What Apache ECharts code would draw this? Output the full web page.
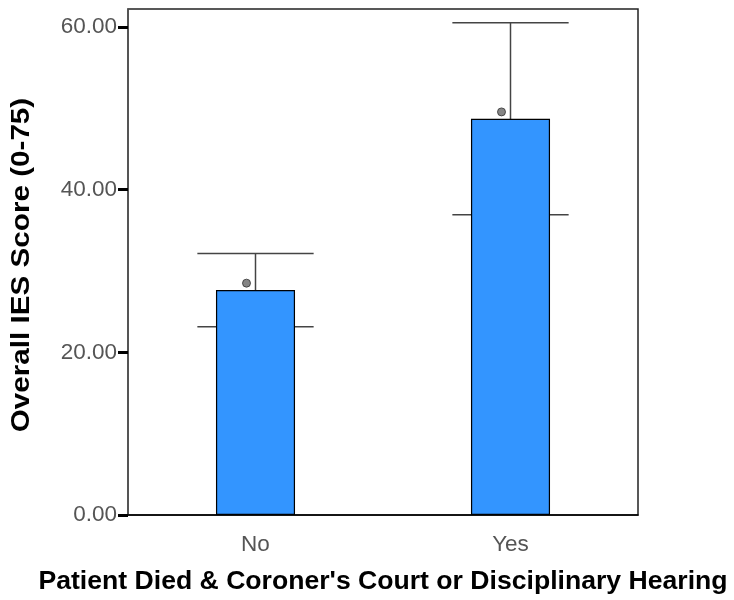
<!DOCTYPE html>
<html>
<head>
<meta charset="utf-8">
<script src="https://cdn.jsdelivr.net/npm/echarts@6/dist/echarts.min.js"></script>
<style>
  html, body { margin: 0; padding: 0; background: #fff; }
  #chart { width: 734px; height: 600px; }
</style>
</head>
<body>
<div id="chart"></div>
<script>
// IES scores by group: mean, 95% CI bounds and a marker value
const categories = ['No', 'Yes'];
const means = [27.66, 48.7];
const ciLower = [23.15, 36.9];
const ciUpper = [32.15, 60.5];
const markers = [28.5, 49.55];
const yTicks = [0, 20, 40, 60];
const xTitle = "Patient Died & Coroner's Court or Disciplinary Hearing";
const yTitle = 'Overall IES Score (0-75)';

const chart = echarts.init(document.getElementById('chart'));

const errorData = categories.map((c, i) => [i, ciLower[i], ciUpper[i]]);

chart.setOption({
  animation: false,
  grid: {
    left: 128, right: 96, top: 9, bottom: 85,
    outerBoundsMode: 'none',
    containLabel: false,
    show: true, borderColor: '#222', borderWidth: 1.5, backgroundColor: '#fff'
  },
  graphic: [{
    // vertical axis title, stretched slightly along its length
    type: 'text',
    x: 22,
    y: 265,
    rotation: Math.PI / 2,
    scaleX: 1.14,
    style: {
      text: yTitle,
      font: 'bold 26px "Liberation Sans"',
      fill: '#000',
      align: 'center',
      verticalAlign: 'middle'
    }
  }],
  xAxis: {
    type: 'category',
    data: categories,
    name: xTitle,
    nameLocation: 'middle',
    nameGap: 53,
    nameTextStyle: { fontFamily: 'Liberation Sans', fontWeight: 'bold', fontSize: 26.6, color: '#000' },
    axisLine: { lineStyle: { color: '#000', width: 1.5 } },
    axisTick: { alignWithLabel: true, length: 8, lineStyle: { color: '#000', width: 3 } },
    axisLabel: { fontFamily: 'Liberation Sans', fontSize: 22.5, color: '#555', margin: 18 }
  },
  yAxis: {
    type: 'value',
    min: 0,
    max: 62.2,
    interval: 20,
    axisLine: { show: true, lineStyle: { color: '#555', width: 1.5 } },
    axisTick: { show: true, length: 10, lineStyle: { color: '#000', width: 3 } },
    splitLine: { show: false },
    axisLabel: {
      fontFamily: 'Liberation Sans', fontSize: 22.5, color: '#555', margin: 11,
      showMaxLabel: false,
      formatter: v => yTicks.includes(v) ? v.toFixed(2) : ''
    }
  },
  series: [
    {
      // confidence interval whiskers, drawn beneath the bars
      type: 'custom',
      z: 1,
      data: errorData,
      renderItem: function (params, api) {
        const x = api.value(0);
        const lo = api.coord([x, api.value(1)]);
        const hi = api.coord([x, api.value(2)]);
        const half = api.size([1, 0])[0] * 0.228;
        const style = { stroke: '#444', lineWidth: 1.5 };
        return {
          type: 'group',
          children: [
            { type: 'line', shape: { x1: hi[0], y1: hi[1], x2: lo[0], y2: lo[1] }, style },
            { type: 'line', shape: { x1: hi[0] - half, y1: hi[1], x2: hi[0] + half, y2: hi[1] }, style },
            { type: 'line', shape: { x1: lo[0] - half, y1: lo[1], x2: lo[0] + half, y2: lo[1] }, style }
          ]
        };
      }
    },
    {
      type: 'bar',
      z: 2,
      data: means,
      barWidth: '31%',
      itemStyle: { color: '#3395ff', borderColor: '#000', borderWidth: 1.2 }
    },
    {
      type: 'scatter',
      z: 3,
      data: markers,
      symbol: 'circle',
      symbolSize: 8,
      symbolOffset: [-9, 0],
      itemStyle: { color: '#666', borderColor: '#333', borderWidth: 1 }
    }
  ]
});
</script>
</body>
</html>
